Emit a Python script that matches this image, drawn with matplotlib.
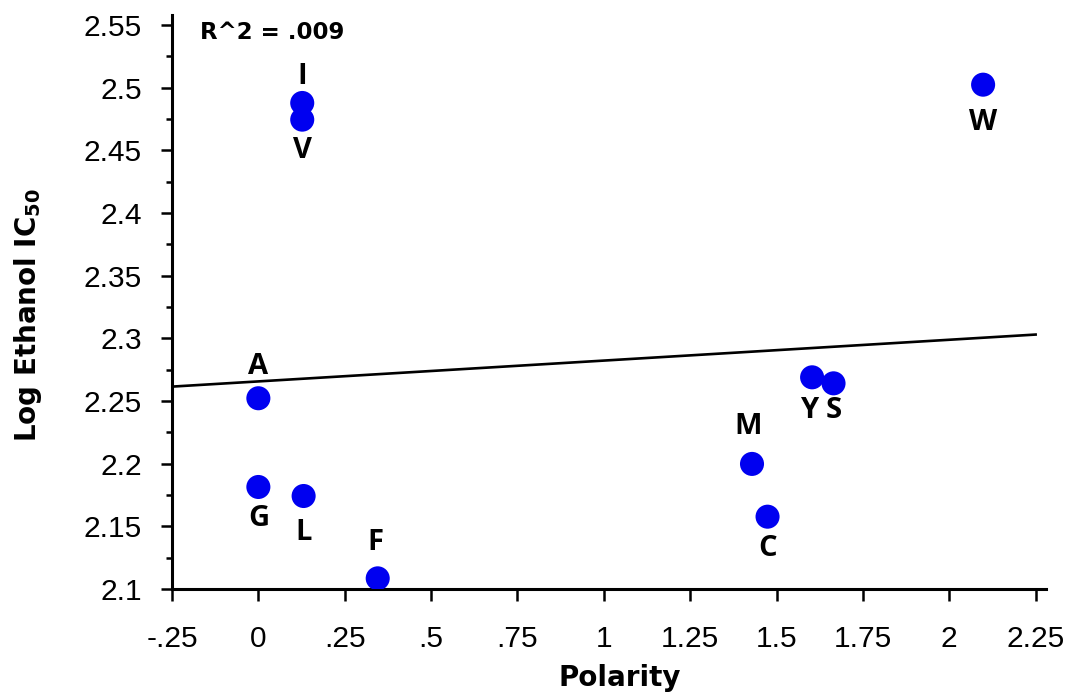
import numpy as np
import matplotlib.pyplot as plt

# amino acid side chain polarity vs. log ethanol IC50
residues = ["I", "V", "W", "A", "G", "L", "F", "M", "C", "Y", "S"]
polarity = [0.127, 0.127, 2.098, 0.0, 0.0, 0.131, 0.3455, 1.429, 1.474, 1.603, 1.665]
log_ic50 = [2.4878, 2.4745, 2.5024, 2.2522, 2.1814, 2.1742, 2.1085, 2.1998, 2.1577, 2.2689, 2.2641]

# where each letter sits relative to its dot (points)
label_offsets = {
    "I": (0, 19), "V": (0, -22), "W": (0, -27), "A": (0, 23), "G": (0, -23),
    "L": (0, -26), "F": (-1.5, 26), "M": (-2.5, 27), "C": (0, -23),
    "Y": (-2, -24), "S": (0, -19.5),
}

x_ticks = [-0.25, 0, 0.25, 0.5, 0.75, 1, 1.25, 1.5, 1.75, 2, 2.25]
y_ticks = np.arange(2.1, 2.5501, 0.05)


def short_num(v):
    s = "%g" % round(v, 3)
    return s.replace("0.", ".") if abs(v) < 1 and v != 0 else s


fig = plt.figure(figsize=(10.67, 6.94), dpi=100)
ax = fig.add_axes([0.1612, 0.1513, 0.8191, 0.8271])

x = np.array(polarity)
y = np.array(log_ic50)

# least squares trend line
slope, intercept = np.polyfit(x, y, 1)
r2 = np.corrcoef(x, y)[0, 1] ** 2
xl = np.array([-0.25, 2.25])
ax.plot(xl, slope * xl + intercept, color="black", lw=1.9, zorder=2)

ax.scatter(x, y, s=300, color="#0000f0", edgecolors="none", zorder=3)

for name, xi, yi in zip(residues, polarity, log_ic50):
    ax.annotate(name, (xi, yi), xytext=label_offsets[name], textcoords="offset points",
                ha="center", va="center", fontsize=21, fontweight="bold",
                family="Open Sans", color="black")

ax.text(-0.17, 2.544, "R^2 = %s" % short_num(round(r2, 3)), fontsize=16.5,
        fontweight="bold", ha="left", va="center")

ax.set_xlim(-0.25, 2.28)
ax.set_ylim(2.1, 2.558)
ax.set_xticks(x_ticks)
ax.set_xticklabels([short_num(t) for t in x_ticks])
ax.set_yticks(y_ticks)
ax.set_yticklabels([short_num(t) for t in y_ticks])
ax.set_yticks(y_ticks[:-1] + 0.025, minor=True)

for lbl in ax.get_xticklabels() + ax.get_yticklabels():
    lbl.set_family("Liberation Sans")

for side in ["top", "right"]:
    ax.spines[side].set_visible(False)
for side in ["left", "bottom"]:
    ax.spines[side].set_linewidth(2.2)

ax.tick_params(axis="y", which="major", direction="out", length=8, width=1.8,
               labelsize=21.5, pad=13.7)
ax.tick_params(axis="y", which="minor", direction="out", length=4.3, width=1.8)
ax.tick_params(axis="x", which="major", direction="out", length=8.6, width=1.8,
               labelsize=21.5, pad=17)

ax.set_xlabel("Polarity", fontsize=20, fontweight="bold", va="center")
ax.xaxis.set_label_coords(0.5126, -0.155)
ax.set_ylabel(r"Log Ethanol IC$_{\mathbf{50}}$", fontsize=20, fontweight="bold", va="center")
ax.yaxis.set_label_coords(-0.1648, 0.4774)

fig.savefig("out.png", dpi=100)
